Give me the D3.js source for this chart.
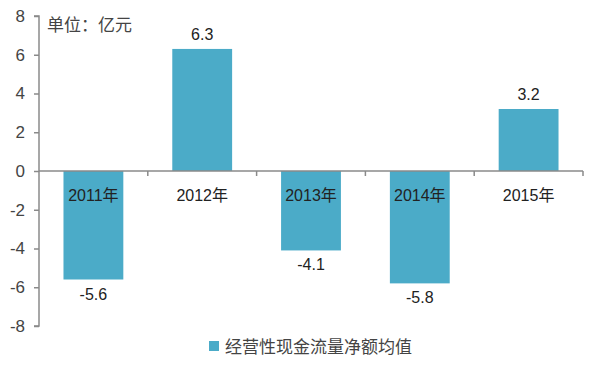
<!DOCTYPE html>
<html>
<head>
<meta charset="utf-8">
<script src="https://cdn.jsdelivr.net/npm/d3@7"></script>
<style>
  body { margin: 0; background: #fff; }
  text { font-family: "Liberation Sans", "Noto Sans CJK SC", sans-serif; }
</style>
</head>
<body>
<svg id="chart" width="600" height="366"></svg>
<script>
const years = ['2011年', '2012年', '2013年', '2014年', '2015年'];
const values = [-5.6, 6.3, -4.1, -5.8, 3.2];
const yTicks = [-8, -6, -4, -2, 0, 2, 4, 6, 8];
const unitLabel = '单位：亿元';
const seriesName = '经营性现金流量净额均值';

const svg = d3.select('#chart');
const barColor = '#4babc8';
const axisColor = '#8a8a8a';

const x = d3.scaleBand()
  .domain(years)
  .range([39, 583])
  .paddingInner(0.45)
  .paddingOuter(0.225);

const y = d3.scaleLinear()
  .domain([-8, 8])
  .range([326, 16]);

// y axis (plain hyphen minus like the original)
svg.append('g')
  .attr('transform', 'translate(39,0)')
  .call(d3.axisLeft(y).tickValues(yTicks).tickFormat(d => String(d)).tickSize(5).tickPadding(9))
  .call(g => g.select('.domain').attr('stroke', axisColor).attr('stroke-width', 1.5).attr('d', `M-5,${y(8)}H0V${y(-8)}H-5`))
  .call(g => g.selectAll('.tick line').attr('stroke', axisColor).attr('stroke-width', 1.5))
  .call(g => g.selectAll('.tick text')
    .attr('fill', '#444')
    .attr('font-size', 17));

// bars
svg.selectAll('rect.bar')
  .data(values)
  .enter().append('rect')
  .attr('class', 'bar')
  .attr('x', (d, i) => x(years[i]))
  .attr('width', x.bandwidth())
  .attr('y', d => y(Math.max(0, d)))
  .attr('height', d => Math.abs(y(d) - y(0)))
  .attr('fill', barColor);

// zero line with category boundary ticks
const zero = svg.append('g').attr('transform', `translate(0,${y(0)})`);
zero.append('line')
  .attr('x1', 39).attr('x2', 583)
  .attr('stroke', axisColor).attr('stroke-width', 1.5);
const step = x.step();
zero.selectAll('line.tk')
  .data(years)
  .enter().append('line')
  .attr('class', 'tk')
  .attr('x1', (d, i) => 39 + step * (i + 1))
  .attr('x2', (d, i) => 39 + step * (i + 1))
  .attr('y1', 0).attr('y2', 5)
  .attr('stroke', axisColor).attr('stroke-width', 1.5);

// category labels
svg.selectAll('text.cat')
  .data(years)
  .enter().append('text')
  .attr('class', 'cat')
  .attr('x', d => x(d) + x.bandwidth() / 2)
  .attr('y', y(0) + 30)
  .attr('text-anchor', 'middle')
  .attr('font-size', 16)
  .attr('fill', '#222')
  .text(d => d);

// value labels
svg.selectAll('text.val')
  .data(values)
  .enter().append('text')
  .attr('class', 'val')
  .attr('x', (d, i) => x(years[i]) + x.bandwidth() / 2)
  .attr('y', d => d >= 0 ? y(d) - 9 : y(d) + 20)
  .attr('text-anchor', 'middle')
  .attr('font-size', 16)
  .attr('fill', '#222')
  .text(d => d.toFixed(1));

// unit
svg.append('text')
  .attr('x', 47).attr('y', 31)
  .attr('font-size', 17)
  .attr('fill', '#444')
  .text(unitLabel);

// legend
svg.append('rect')
  .attr('x', 209).attr('y', 341)
  .attr('width', 10).attr('height', 10)
  .attr('fill', barColor);
svg.append('text')
  .attr('x', 225).attr('y', 353)
  .attr('font-size', 17)
  .attr('fill', '#444')
  .text(seriesName);
</script>
</body>
</html>
